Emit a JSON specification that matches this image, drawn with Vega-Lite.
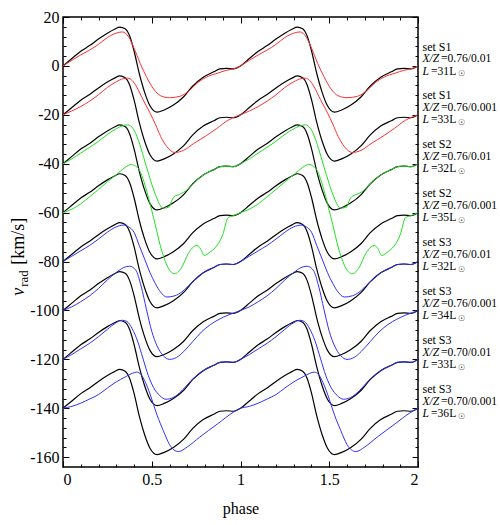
{
"$schema": "https://vega.github.io/schema/vega-lite/v6.json",
"width": 355, "height": 450,
"autosize": "none",
"padding": {"left": 63, "top": 17, "right": 82, "bottom": 58},
"background": "white",
"config": {
 "view": {"stroke": "black", "strokeWidth": 1.5},
 "font": "Liberation Serif",
 "axis": {"domain": false, "grid": false, "tickColor": "black", "tickWidth": 1, "labelColor": "black", "labelFont": "Liberation Serif", "labelFontSize": 16, "titleFont": "Liberation Serif", "titleFontSize": 16, "titleFontWeight": "normal", "titleColor": "black"}
},
"datasets": {
"obs": [
{"c":"b1","p":0,"v":0},{"c":"b1","p":0.05,"v":3},{"c":"b1","p":0.1,"v":6},{"c":"b1","p":0.15,"v":8.3},{"c":"b1","p":0.2,"v":11},{"c":"b1","p":0.25,"v":13.4},{"c":"b1","p":0.29,"v":15},{"c":"b1","p":0.32,"v":15.9},{"c":"b1","p":0.35,"v":15.2},{"c":"b1","p":0.375,"v":12.3},{"c":"b1","p":0.4,"v":6.2},{"c":"b1","p":0.43,"v":-3.2},{"c":"b1","p":0.46,"v":-10.8},{"c":"b1","p":0.49,"v":-16.3},{"c":"b1","p":0.53,"v":-18.9},{"c":"b1","p":0.57,"v":-18},{"c":"b1","p":0.62,"v":-16.1},{"c":"b1","p":0.68,"v":-12.6},{"c":"b1","p":0.73,"v":-8.3},{"c":"b1","p":0.79,"v":-4.6},{"c":"b1","p":0.85,"v":-2.4},{"c":"b1","p":0.885,"v":-1.2},{"c":"b1","p":0.92,"v":-1},{"c":"b1","p":0.96,"v":-1.2},
{"c":"b1","p":1,"v":0},{"c":"b1","p":1.05,"v":3},{"c":"b1","p":1.1,"v":6},{"c":"b1","p":1.15,"v":8.3},{"c":"b1","p":1.2,"v":11},{"c":"b1","p":1.25,"v":13.4},{"c":"b1","p":1.29,"v":15},{"c":"b1","p":1.32,"v":15.9},{"c":"b1","p":1.35,"v":15.2},{"c":"b1","p":1.375,"v":12.3},{"c":"b1","p":1.4,"v":6.2},{"c":"b1","p":1.43,"v":-3.2},{"c":"b1","p":1.46,"v":-10.8},{"c":"b1","p":1.49,"v":-16.3},{"c":"b1","p":1.53,"v":-18.9},{"c":"b1","p":1.57,"v":-18},{"c":"b1","p":1.62,"v":-16.1},{"c":"b1","p":1.68,"v":-12.6},{"c":"b1","p":1.73,"v":-8.3},{"c":"b1","p":1.79,"v":-4.6},{"c":"b1","p":1.85,"v":-2.4},{"c":"b1","p":1.885,"v":-1.2},{"c":"b1","p":1.92,"v":-1},{"c":"b1","p":1.96,"v":-1.2},{"c":"b1","p":2,"v":0},
{"c":"b2","p":0,"v":-20},{"c":"b2","p":0.05,"v":-17},{"c":"b2","p":0.1,"v":-14},{"c":"b2","p":0.15,"v":-11.7},{"c":"b2","p":0.2,"v":-9},{"c":"b2","p":0.25,"v":-6.6},{"c":"b2","p":0.29,"v":-5},{"c":"b2","p":0.32,"v":-4.1},{"c":"b2","p":0.35,"v":-4.8},{"c":"b2","p":0.375,"v":-7.7},{"c":"b2","p":0.4,"v":-13.8},{"c":"b2","p":0.43,"v":-23.2},{"c":"b2","p":0.46,"v":-30.8},{"c":"b2","p":0.49,"v":-36.3},{"c":"b2","p":0.53,"v":-38.9},{"c":"b2","p":0.57,"v":-38},{"c":"b2","p":0.62,"v":-36.1},{"c":"b2","p":0.68,"v":-32.6},{"c":"b2","p":0.73,"v":-28.3},{"c":"b2","p":0.79,"v":-24.6},{"c":"b2","p":0.85,"v":-22.4},{"c":"b2","p":0.885,"v":-21.2},{"c":"b2","p":0.92,"v":-21},{"c":"b2","p":0.96,"v":-21.2},
{"c":"b2","p":1,"v":-20},{"c":"b2","p":1.05,"v":-17},{"c":"b2","p":1.1,"v":-14},{"c":"b2","p":1.15,"v":-11.7},{"c":"b2","p":1.2,"v":-9},{"c":"b2","p":1.25,"v":-6.6},{"c":"b2","p":1.29,"v":-5},{"c":"b2","p":1.32,"v":-4.1},{"c":"b2","p":1.35,"v":-4.8},{"c":"b2","p":1.375,"v":-7.7},{"c":"b2","p":1.4,"v":-13.8},{"c":"b2","p":1.43,"v":-23.2},{"c":"b2","p":1.46,"v":-30.8},{"c":"b2","p":1.49,"v":-36.3},{"c":"b2","p":1.53,"v":-38.9},{"c":"b2","p":1.57,"v":-38},{"c":"b2","p":1.62,"v":-36.1},{"c":"b2","p":1.68,"v":-32.6},{"c":"b2","p":1.73,"v":-28.3},{"c":"b2","p":1.79,"v":-24.6},{"c":"b2","p":1.85,"v":-22.4},{"c":"b2","p":1.885,"v":-21.2},{"c":"b2","p":1.92,"v":-21},{"c":"b2","p":1.96,"v":-21.2},{"c":"b2","p":2,"v":-20},
{"c":"b3","p":0,"v":-40},{"c":"b3","p":0.05,"v":-37},{"c":"b3","p":0.1,"v":-34},{"c":"b3","p":0.15,"v":-31.7},{"c":"b3","p":0.2,"v":-29},{"c":"b3","p":0.25,"v":-26.6},{"c":"b3","p":0.29,"v":-25},{"c":"b3","p":0.32,"v":-24.1},{"c":"b3","p":0.35,"v":-24.8},{"c":"b3","p":0.375,"v":-27.7},{"c":"b3","p":0.4,"v":-33.8},{"c":"b3","p":0.43,"v":-43.2},{"c":"b3","p":0.46,"v":-50.8},{"c":"b3","p":0.49,"v":-56.3},{"c":"b3","p":0.53,"v":-58.9},{"c":"b3","p":0.57,"v":-58},{"c":"b3","p":0.62,"v":-56.1},{"c":"b3","p":0.68,"v":-52.6},{"c":"b3","p":0.73,"v":-48.3},{"c":"b3","p":0.79,"v":-44.6},{"c":"b3","p":0.85,"v":-42.4},{"c":"b3","p":0.885,"v":-41.2},{"c":"b3","p":0.92,"v":-41},{"c":"b3","p":0.96,"v":-41.2},
{"c":"b3","p":1,"v":-40},{"c":"b3","p":1.05,"v":-37},{"c":"b3","p":1.1,"v":-34},{"c":"b3","p":1.15,"v":-31.7},{"c":"b3","p":1.2,"v":-29},{"c":"b3","p":1.25,"v":-26.6},{"c":"b3","p":1.29,"v":-25},{"c":"b3","p":1.32,"v":-24.1},{"c":"b3","p":1.35,"v":-24.8},{"c":"b3","p":1.375,"v":-27.7},{"c":"b3","p":1.4,"v":-33.8},{"c":"b3","p":1.43,"v":-43.2},{"c":"b3","p":1.46,"v":-50.8},{"c":"b3","p":1.49,"v":-56.3},{"c":"b3","p":1.53,"v":-58.9},{"c":"b3","p":1.57,"v":-58},{"c":"b3","p":1.62,"v":-56.1},{"c":"b3","p":1.68,"v":-52.6},{"c":"b3","p":1.73,"v":-48.3},{"c":"b3","p":1.79,"v":-44.6},{"c":"b3","p":1.85,"v":-42.4},{"c":"b3","p":1.885,"v":-41.2},{"c":"b3","p":1.92,"v":-41},{"c":"b3","p":1.96,"v":-41.2},{"c":"b3","p":2,"v":-40},
{"c":"b4","p":0,"v":-60},{"c":"b4","p":0.05,"v":-57},{"c":"b4","p":0.1,"v":-54},{"c":"b4","p":0.15,"v":-51.7},{"c":"b4","p":0.2,"v":-49},{"c":"b4","p":0.25,"v":-46.6},{"c":"b4","p":0.29,"v":-45},{"c":"b4","p":0.32,"v":-44.1},{"c":"b4","p":0.35,"v":-44.8},{"c":"b4","p":0.375,"v":-47.7},{"c":"b4","p":0.4,"v":-53.8},{"c":"b4","p":0.43,"v":-63.2},{"c":"b4","p":0.46,"v":-70.8},{"c":"b4","p":0.49,"v":-76.3},{"c":"b4","p":0.53,"v":-78.9},{"c":"b4","p":0.57,"v":-78},{"c":"b4","p":0.62,"v":-76.1},{"c":"b4","p":0.68,"v":-72.6},{"c":"b4","p":0.73,"v":-68.3},{"c":"b4","p":0.79,"v":-64.6},{"c":"b4","p":0.85,"v":-62.4},{"c":"b4","p":0.885,"v":-61.2},{"c":"b4","p":0.92,"v":-61},{"c":"b4","p":0.96,"v":-61.2},
{"c":"b4","p":1,"v":-60},{"c":"b4","p":1.05,"v":-57},{"c":"b4","p":1.1,"v":-54},{"c":"b4","p":1.15,"v":-51.7},{"c":"b4","p":1.2,"v":-49},{"c":"b4","p":1.25,"v":-46.6},{"c":"b4","p":1.29,"v":-45},{"c":"b4","p":1.32,"v":-44.1},{"c":"b4","p":1.35,"v":-44.8},{"c":"b4","p":1.375,"v":-47.7},{"c":"b4","p":1.4,"v":-53.8},{"c":"b4","p":1.43,"v":-63.2},{"c":"b4","p":1.46,"v":-70.8},{"c":"b4","p":1.49,"v":-76.3},{"c":"b4","p":1.53,"v":-78.9},{"c":"b4","p":1.57,"v":-78},{"c":"b4","p":1.62,"v":-76.1},{"c":"b4","p":1.68,"v":-72.6},{"c":"b4","p":1.73,"v":-68.3},{"c":"b4","p":1.79,"v":-64.6},{"c":"b4","p":1.85,"v":-62.4},{"c":"b4","p":1.885,"v":-61.2},{"c":"b4","p":1.92,"v":-61},{"c":"b4","p":1.96,"v":-61.2},{"c":"b4","p":2,"v":-60},
{"c":"b5","p":0,"v":-80},{"c":"b5","p":0.05,"v":-77},{"c":"b5","p":0.1,"v":-74},{"c":"b5","p":0.15,"v":-71.7},{"c":"b5","p":0.2,"v":-69},{"c":"b5","p":0.25,"v":-66.6},{"c":"b5","p":0.29,"v":-65},{"c":"b5","p":0.32,"v":-64.1},{"c":"b5","p":0.35,"v":-64.8},{"c":"b5","p":0.375,"v":-67.7},{"c":"b5","p":0.4,"v":-73.8},{"c":"b5","p":0.43,"v":-83.2},{"c":"b5","p":0.46,"v":-90.8},{"c":"b5","p":0.49,"v":-96.3},{"c":"b5","p":0.53,"v":-98.9},{"c":"b5","p":0.57,"v":-98},{"c":"b5","p":0.62,"v":-96.1},{"c":"b5","p":0.68,"v":-92.6},{"c":"b5","p":0.73,"v":-88.3},{"c":"b5","p":0.79,"v":-84.6},{"c":"b5","p":0.85,"v":-82.4},{"c":"b5","p":0.885,"v":-81.2},{"c":"b5","p":0.92,"v":-81},{"c":"b5","p":0.96,"v":-81.2},
{"c":"b5","p":1,"v":-80},{"c":"b5","p":1.05,"v":-77},{"c":"b5","p":1.1,"v":-74},{"c":"b5","p":1.15,"v":-71.7},{"c":"b5","p":1.2,"v":-69},{"c":"b5","p":1.25,"v":-66.6},{"c":"b5","p":1.29,"v":-65},{"c":"b5","p":1.32,"v":-64.1},{"c":"b5","p":1.35,"v":-64.8},{"c":"b5","p":1.375,"v":-67.7},{"c":"b5","p":1.4,"v":-73.8},{"c":"b5","p":1.43,"v":-83.2},{"c":"b5","p":1.46,"v":-90.8},{"c":"b5","p":1.49,"v":-96.3},{"c":"b5","p":1.53,"v":-98.9},{"c":"b5","p":1.57,"v":-98},{"c":"b5","p":1.62,"v":-96.1},{"c":"b5","p":1.68,"v":-92.6},{"c":"b5","p":1.73,"v":-88.3},{"c":"b5","p":1.79,"v":-84.6},{"c":"b5","p":1.85,"v":-82.4},{"c":"b5","p":1.885,"v":-81.2},{"c":"b5","p":1.92,"v":-81},{"c":"b5","p":1.96,"v":-81.2},{"c":"b5","p":2,"v":-80},
{"c":"b6","p":0,"v":-100},{"c":"b6","p":0.05,"v":-97},{"c":"b6","p":0.1,"v":-94},{"c":"b6","p":0.15,"v":-91.7},{"c":"b6","p":0.2,"v":-89},{"c":"b6","p":0.25,"v":-86.6},{"c":"b6","p":0.29,"v":-85},{"c":"b6","p":0.32,"v":-84.1},{"c":"b6","p":0.35,"v":-84.8},{"c":"b6","p":0.375,"v":-87.7},{"c":"b6","p":0.4,"v":-93.8},{"c":"b6","p":0.43,"v":-103.2},{"c":"b6","p":0.46,"v":-110.8},{"c":"b6","p":0.49,"v":-116.3},{"c":"b6","p":0.53,"v":-118.9},{"c":"b6","p":0.57,"v":-118},{"c":"b6","p":0.62,"v":-116.1},{"c":"b6","p":0.68,"v":-112.6},{"c":"b6","p":0.73,"v":-108.3},{"c":"b6","p":0.79,"v":-104.6},{"c":"b6","p":0.85,"v":-102.4},{"c":"b6","p":0.885,"v":-101.2},{"c":"b6","p":0.92,"v":-101},{"c":"b6","p":0.96,"v":-101.2},
{"c":"b6","p":1,"v":-100},{"c":"b6","p":1.05,"v":-97},{"c":"b6","p":1.1,"v":-94},{"c":"b6","p":1.15,"v":-91.7},{"c":"b6","p":1.2,"v":-89},{"c":"b6","p":1.25,"v":-86.6},{"c":"b6","p":1.29,"v":-85},{"c":"b6","p":1.32,"v":-84.1},{"c":"b6","p":1.35,"v":-84.8},{"c":"b6","p":1.375,"v":-87.7},{"c":"b6","p":1.4,"v":-93.8},{"c":"b6","p":1.43,"v":-103.2},{"c":"b6","p":1.46,"v":-110.8},{"c":"b6","p":1.49,"v":-116.3},{"c":"b6","p":1.53,"v":-118.9},{"c":"b6","p":1.57,"v":-118},{"c":"b6","p":1.62,"v":-116.1},{"c":"b6","p":1.68,"v":-112.6},{"c":"b6","p":1.73,"v":-108.3},{"c":"b6","p":1.79,"v":-104.6},{"c":"b6","p":1.85,"v":-102.4},{"c":"b6","p":1.885,"v":-101.2},{"c":"b6","p":1.92,"v":-101},{"c":"b6","p":1.96,"v":-101.2},{"c":"b6","p":2,"v":-100},
{"c":"b7","p":0,"v":-120},{"c":"b7","p":0.05,"v":-117},{"c":"b7","p":0.1,"v":-114},{"c":"b7","p":0.15,"v":-111.7},{"c":"b7","p":0.2,"v":-109},{"c":"b7","p":0.25,"v":-106.6},{"c":"b7","p":0.29,"v":-105},{"c":"b7","p":0.32,"v":-104.1},{"c":"b7","p":0.35,"v":-104.8},{"c":"b7","p":0.375,"v":-107.7},{"c":"b7","p":0.4,"v":-113.8},{"c":"b7","p":0.43,"v":-123.2},{"c":"b7","p":0.46,"v":-130.8},{"c":"b7","p":0.49,"v":-136.3},{"c":"b7","p":0.53,"v":-138.9},{"c":"b7","p":0.57,"v":-138},{"c":"b7","p":0.62,"v":-136.1},{"c":"b7","p":0.68,"v":-132.6},{"c":"b7","p":0.73,"v":-128.3},{"c":"b7","p":0.79,"v":-124.6},{"c":"b7","p":0.85,"v":-122.4},{"c":"b7","p":0.885,"v":-121.2},{"c":"b7","p":0.92,"v":-121},{"c":"b7","p":0.96,"v":-121.2},
{"c":"b7","p":1,"v":-120},{"c":"b7","p":1.05,"v":-117},{"c":"b7","p":1.1,"v":-114},{"c":"b7","p":1.15,"v":-111.7},{"c":"b7","p":1.2,"v":-109},{"c":"b7","p":1.25,"v":-106.6},{"c":"b7","p":1.29,"v":-105},{"c":"b7","p":1.32,"v":-104.1},{"c":"b7","p":1.35,"v":-104.8},{"c":"b7","p":1.375,"v":-107.7},{"c":"b7","p":1.4,"v":-113.8},{"c":"b7","p":1.43,"v":-123.2},{"c":"b7","p":1.46,"v":-130.8},{"c":"b7","p":1.49,"v":-136.3},{"c":"b7","p":1.53,"v":-138.9},{"c":"b7","p":1.57,"v":-138},{"c":"b7","p":1.62,"v":-136.1},{"c":"b7","p":1.68,"v":-132.6},{"c":"b7","p":1.73,"v":-128.3},{"c":"b7","p":1.79,"v":-124.6},{"c":"b7","p":1.85,"v":-122.4},{"c":"b7","p":1.885,"v":-121.2},{"c":"b7","p":1.92,"v":-121},{"c":"b7","p":1.96,"v":-121.2},{"c":"b7","p":2,"v":-120},
{"c":"b8","p":0,"v":-140},{"c":"b8","p":0.05,"v":-137},{"c":"b8","p":0.1,"v":-134},{"c":"b8","p":0.15,"v":-131.7},{"c":"b8","p":0.2,"v":-129},{"c":"b8","p":0.25,"v":-126.6},{"c":"b8","p":0.29,"v":-125},{"c":"b8","p":0.32,"v":-124.1},{"c":"b8","p":0.35,"v":-124.8},{"c":"b8","p":0.375,"v":-127.7},{"c":"b8","p":0.4,"v":-133.8},{"c":"b8","p":0.43,"v":-143.2},{"c":"b8","p":0.46,"v":-150.8},{"c":"b8","p":0.49,"v":-156.3},{"c":"b8","p":0.53,"v":-158.9},{"c":"b8","p":0.57,"v":-158},{"c":"b8","p":0.62,"v":-156.1},{"c":"b8","p":0.68,"v":-152.6},{"c":"b8","p":0.73,"v":-148.3},{"c":"b8","p":0.79,"v":-144.6},{"c":"b8","p":0.85,"v":-142.4},{"c":"b8","p":0.885,"v":-141.2},{"c":"b8","p":0.92,"v":-141},{"c":"b8","p":0.96,"v":-141.2},
{"c":"b8","p":1,"v":-140},{"c":"b8","p":1.05,"v":-137},{"c":"b8","p":1.1,"v":-134},{"c":"b8","p":1.15,"v":-131.7},{"c":"b8","p":1.2,"v":-129},{"c":"b8","p":1.25,"v":-126.6},{"c":"b8","p":1.29,"v":-125},{"c":"b8","p":1.32,"v":-124.1},{"c":"b8","p":1.35,"v":-124.8},{"c":"b8","p":1.375,"v":-127.7},{"c":"b8","p":1.4,"v":-133.8},{"c":"b8","p":1.43,"v":-143.2},{"c":"b8","p":1.46,"v":-150.8},{"c":"b8","p":1.49,"v":-156.3},{"c":"b8","p":1.53,"v":-158.9},{"c":"b8","p":1.57,"v":-158},{"c":"b8","p":1.62,"v":-156.1},{"c":"b8","p":1.68,"v":-152.6},{"c":"b8","p":1.73,"v":-148.3},{"c":"b8","p":1.79,"v":-144.6},{"c":"b8","p":1.85,"v":-142.4},{"c":"b8","p":1.885,"v":-141.2},{"c":"b8","p":1.92,"v":-141},{"c":"b8","p":1.96,"v":-141.2},{"c":"b8","p":2,"v":-140}
],
"mod": [
{"c":"m1","p":0,"v":0},{"c":"m1","p":0.05,"v":2.3},{"c":"m1","p":0.1,"v":4.5},{"c":"m1","p":0.15,"v":6.5},{"c":"m1","p":0.2,"v":8.8},{"c":"m1","p":0.25,"v":11.6},{"c":"m1","p":0.3,"v":13.4},{"c":"m1","p":0.335,"v":13.9},{"c":"m1","p":0.37,"v":11.8},{"c":"m1","p":0.4,"v":7.3},{"c":"m1","p":0.435,"v":1},{"c":"m1","p":0.47,"v":-4.4},{"c":"m1","p":0.51,"v":-9.4},{"c":"m1","p":0.55,"v":-12.2},{"c":"m1","p":0.6,"v":-13},{"c":"m1","p":0.66,"v":-12.4},{"c":"m1","p":0.71,"v":-10.2},{"c":"m1","p":0.76,"v":-6.8},{"c":"m1","p":0.81,"v":-4.5},{"c":"m1","p":0.87,"v":-3},{"c":"m1","p":0.92,"v":-1.8},{"c":"m1","p":0.96,"v":-1.2},
{"c":"m1","p":1,"v":0},{"c":"m1","p":1.05,"v":2.3},{"c":"m1","p":1.1,"v":4.5},{"c":"m1","p":1.15,"v":6.5},{"c":"m1","p":1.2,"v":8.8},{"c":"m1","p":1.25,"v":11.6},{"c":"m1","p":1.3,"v":13.4},{"c":"m1","p":1.335,"v":13.9},{"c":"m1","p":1.37,"v":11.8},{"c":"m1","p":1.4,"v":7.3},{"c":"m1","p":1.435,"v":1},{"c":"m1","p":1.47,"v":-4.4},{"c":"m1","p":1.51,"v":-9.4},{"c":"m1","p":1.55,"v":-12.2},{"c":"m1","p":1.6,"v":-13},{"c":"m1","p":1.66,"v":-12.4},{"c":"m1","p":1.71,"v":-10.2},{"c":"m1","p":1.76,"v":-6.8},{"c":"m1","p":1.81,"v":-4.5},{"c":"m1","p":1.87,"v":-3},{"c":"m1","p":1.92,"v":-1.8},{"c":"m1","p":1.96,"v":-1.2},{"c":"m1","p":2,"v":0},
{"c":"m2","p":0,"v":-20},{"c":"m2","p":0.05,"v":-18.4},{"c":"m2","p":0.1,"v":-16.6},{"c":"m2","p":0.15,"v":-14.4},{"c":"m2","p":0.2,"v":-11.8},{"c":"m2","p":0.25,"v":-8.8},{"c":"m2","p":0.3,"v":-6.5},{"c":"m2","p":0.34,"v":-5.2},{"c":"m2","p":0.365,"v":-5},{"c":"m2","p":0.39,"v":-6},{"c":"m2","p":0.415,"v":-8.6},{"c":"m2","p":0.45,"v":-13.7},{"c":"m2","p":0.49,"v":-19.2},{"c":"m2","p":0.52,"v":-23.8},{"c":"m2","p":0.55,"v":-28.8},{"c":"m2","p":0.585,"v":-33},{"c":"m2","p":0.63,"v":-35.4},{"c":"m2","p":0.68,"v":-34.5},{"c":"m2","p":0.735,"v":-31.8},{"c":"m2","p":0.81,"v":-28.4},{"c":"m2","p":0.866,"v":-25.6},{"c":"m2","p":0.93,"v":-22.2},{"c":"m2","p":0.97,"v":-20.8},
{"c":"m2","p":1,"v":-20},{"c":"m2","p":1.05,"v":-18.4},{"c":"m2","p":1.1,"v":-16.6},{"c":"m2","p":1.15,"v":-14.4},{"c":"m2","p":1.2,"v":-11.8},{"c":"m2","p":1.25,"v":-8.8},{"c":"m2","p":1.3,"v":-6.5},{"c":"m2","p":1.34,"v":-5.2},{"c":"m2","p":1.365,"v":-5},{"c":"m2","p":1.39,"v":-6},{"c":"m2","p":1.415,"v":-8.6},{"c":"m2","p":1.45,"v":-13.7},{"c":"m2","p":1.49,"v":-19.2},{"c":"m2","p":1.52,"v":-23.8},{"c":"m2","p":1.55,"v":-28.8},{"c":"m2","p":1.585,"v":-33},{"c":"m2","p":1.63,"v":-35.4},{"c":"m2","p":1.68,"v":-34.5},{"c":"m2","p":1.735,"v":-31.8},{"c":"m2","p":1.81,"v":-28.4},{"c":"m2","p":1.866,"v":-25.6},{"c":"m2","p":1.93,"v":-22.2},{"c":"m2","p":1.97,"v":-20.8},{"c":"m2","p":2,"v":-20},
{"c":"m3","p":0,"v":-40},{"c":"m3","p":0.05,"v":-38},{"c":"m3","p":0.1,"v":-35.6},{"c":"m3","p":0.15,"v":-33.3},{"c":"m3","p":0.2,"v":-30.8},{"c":"m3","p":0.25,"v":-28},{"c":"m3","p":0.3,"v":-25.7},{"c":"m3","p":0.335,"v":-24.5},{"c":"m3","p":0.365,"v":-24.1},{"c":"m3","p":0.395,"v":-25.6},{"c":"m3","p":0.425,"v":-30.5},{"c":"m3","p":0.455,"v":-37.5},{"c":"m3","p":0.485,"v":-44.8},{"c":"m3","p":0.52,"v":-52.5},{"c":"m3","p":0.565,"v":-58.2},{"c":"m3","p":0.6,"v":-57.6},{"c":"m3","p":0.61,"v":-55.5},{"c":"m3","p":0.625,"v":-53.6},{"c":"m3","p":0.66,"v":-52.4},{"c":"m3","p":0.7,"v":-50.6},{"c":"m3","p":0.73,"v":-48.3},{"c":"m3","p":0.79,"v":-44.6},{"c":"m3","p":0.85,"v":-42.4},{"c":"m3","p":0.885,"v":-41.2},{"c":"m3","p":0.92,"v":-41},{"c":"m3","p":0.96,"v":-41.2},
{"c":"m3","p":1,"v":-40},{"c":"m3","p":1.05,"v":-38},{"c":"m3","p":1.1,"v":-35.6},{"c":"m3","p":1.15,"v":-33.3},{"c":"m3","p":1.2,"v":-30.8},{"c":"m3","p":1.25,"v":-28},{"c":"m3","p":1.3,"v":-25.7},{"c":"m3","p":1.335,"v":-24.5},{"c":"m3","p":1.365,"v":-24.1},{"c":"m3","p":1.395,"v":-25.6},{"c":"m3","p":1.425,"v":-30.5},{"c":"m3","p":1.455,"v":-37.5},{"c":"m3","p":1.485,"v":-44.8},{"c":"m3","p":1.52,"v":-52.5},{"c":"m3","p":1.565,"v":-58.2},{"c":"m3","p":1.6,"v":-57.6},{"c":"m3","p":1.61,"v":-55.5},{"c":"m3","p":1.625,"v":-53.6},{"c":"m3","p":1.66,"v":-52.4},{"c":"m3","p":1.7,"v":-50.6},{"c":"m3","p":1.73,"v":-48.3},{"c":"m3","p":1.79,"v":-44.6},{"c":"m3","p":1.85,"v":-42.4},{"c":"m3","p":1.885,"v":-41.2},{"c":"m3","p":1.92,"v":-41},{"c":"m3","p":1.96,"v":-41.2},{"c":"m3","p":2,"v":-40},
{"c":"m4","p":0,"v":-60},{"c":"m4","p":0.05,"v":-58.6},{"c":"m4","p":0.1,"v":-56.4},{"c":"m4","p":0.15,"v":-53.5},{"c":"m4","p":0.2,"v":-50.5},{"c":"m4","p":0.25,"v":-47.4},{"c":"m4","p":0.3,"v":-44.5},{"c":"m4","p":0.35,"v":-41.5},{"c":"m4","p":0.385,"v":-40.3},{"c":"m4","p":0.41,"v":-41},{"c":"m4","p":0.43,"v":-42.5},{"c":"m4","p":0.45,"v":-46},{"c":"m4","p":0.48,"v":-53.5},{"c":"m4","p":0.52,"v":-65},{"c":"m4","p":0.55,"v":-74},{"c":"m4","p":0.585,"v":-81.5},{"c":"m4","p":0.63,"v":-85},{"c":"m4","p":0.67,"v":-82.2},{"c":"m4","p":0.705,"v":-76.8},{"c":"m4","p":0.735,"v":-74},{"c":"m4","p":0.755,"v":-73.4},{"c":"m4","p":0.775,"v":-74.8},{"c":"m4","p":0.795,"v":-77.5},{"c":"m4","p":0.83,"v":-76},{"c":"m4","p":0.866,"v":-73.6},{"c":"m4","p":0.9,"v":-69},{"c":"m4","p":0.93,"v":-62},{"c":"m4","p":0.96,"v":-61.2},
{"c":"m4","p":1,"v":-60},{"c":"m4","p":1.05,"v":-58.6},{"c":"m4","p":1.1,"v":-56.4},{"c":"m4","p":1.15,"v":-53.5},{"c":"m4","p":1.2,"v":-50.5},{"c":"m4","p":1.25,"v":-47.4},{"c":"m4","p":1.3,"v":-44.5},{"c":"m4","p":1.35,"v":-41.5},{"c":"m4","p":1.385,"v":-40.3},{"c":"m4","p":1.41,"v":-41},{"c":"m4","p":1.43,"v":-42.5},{"c":"m4","p":1.45,"v":-46},{"c":"m4","p":1.48,"v":-53.5},{"c":"m4","p":1.52,"v":-65},{"c":"m4","p":1.55,"v":-74},{"c":"m4","p":1.585,"v":-81.5},{"c":"m4","p":1.63,"v":-85},{"c":"m4","p":1.67,"v":-82.2},{"c":"m4","p":1.705,"v":-76.8},{"c":"m4","p":1.735,"v":-74},{"c":"m4","p":1.755,"v":-73.4},{"c":"m4","p":1.775,"v":-74.8},{"c":"m4","p":1.795,"v":-77.5},{"c":"m4","p":1.83,"v":-76},{"c":"m4","p":1.866,"v":-73.6},{"c":"m4","p":1.9,"v":-69},{"c":"m4","p":1.93,"v":-62},{"c":"m4","p":1.96,"v":-61.2},{"c":"m4","p":2,"v":-60},
{"c":"m5","p":0,"v":-80},{"c":"m5","p":0.05,"v":-77.8},{"c":"m5","p":0.1,"v":-75.6},{"c":"m5","p":0.15,"v":-73.4},{"c":"m5","p":0.2,"v":-70.8},{"c":"m5","p":0.25,"v":-68},{"c":"m5","p":0.3,"v":-65.8},{"c":"m5","p":0.34,"v":-65.1},{"c":"m5","p":0.37,"v":-65.8},{"c":"m5","p":0.4,"v":-68},{"c":"m5","p":0.43,"v":-73.5},{"c":"m5","p":0.46,"v":-79},{"c":"m5","p":0.49,"v":-84.5},{"c":"m5","p":0.52,"v":-89},{"c":"m5","p":0.55,"v":-92.5},{"c":"m5","p":0.585,"v":-94.5},{"c":"m5","p":0.63,"v":-94},{"c":"m5","p":0.67,"v":-92.4},{"c":"m5","p":0.72,"v":-89},{"c":"m5","p":0.76,"v":-86.5},{"c":"m5","p":0.79,"v":-84.6},{"c":"m5","p":0.85,"v":-82.4},{"c":"m5","p":0.885,"v":-81.2},{"c":"m5","p":0.92,"v":-81},{"c":"m5","p":0.96,"v":-81.2},
{"c":"m5","p":1,"v":-80},{"c":"m5","p":1.05,"v":-77.8},{"c":"m5","p":1.1,"v":-75.6},{"c":"m5","p":1.15,"v":-73.4},{"c":"m5","p":1.2,"v":-70.8},{"c":"m5","p":1.25,"v":-68},{"c":"m5","p":1.3,"v":-65.8},{"c":"m5","p":1.34,"v":-65.1},{"c":"m5","p":1.37,"v":-65.8},{"c":"m5","p":1.4,"v":-68},{"c":"m5","p":1.43,"v":-73.5},{"c":"m5","p":1.46,"v":-79},{"c":"m5","p":1.49,"v":-84.5},{"c":"m5","p":1.52,"v":-89},{"c":"m5","p":1.55,"v":-92.5},{"c":"m5","p":1.585,"v":-94.5},{"c":"m5","p":1.63,"v":-94},{"c":"m5","p":1.67,"v":-92.4},{"c":"m5","p":1.72,"v":-89},{"c":"m5","p":1.76,"v":-86.5},{"c":"m5","p":1.79,"v":-84.6},{"c":"m5","p":1.85,"v":-82.4},{"c":"m5","p":1.885,"v":-81.2},{"c":"m5","p":1.92,"v":-81},{"c":"m5","p":1.96,"v":-81.2},{"c":"m5","p":2,"v":-80},
{"c":"m6","p":0,"v":-100},{"c":"m6","p":0.05,"v":-98.5},{"c":"m6","p":0.1,"v":-96.4},{"c":"m6","p":0.15,"v":-94},{"c":"m6","p":0.2,"v":-91},{"c":"m6","p":0.25,"v":-87.5},{"c":"m6","p":0.3,"v":-84.5},{"c":"m6","p":0.34,"v":-82.5},{"c":"m6","p":0.375,"v":-81.9},{"c":"m6","p":0.41,"v":-83.5},{"c":"m6","p":0.44,"v":-90},{"c":"m6","p":0.47,"v":-99.5},{"c":"m6","p":0.5,"v":-108.5},{"c":"m6","p":0.53,"v":-114.5},{"c":"m6","p":0.565,"v":-118.5},{"c":"m6","p":0.6,"v":-120},{"c":"m6","p":0.64,"v":-119.2},{"c":"m6","p":0.68,"v":-116.8},{"c":"m6","p":0.73,"v":-112.8},{"c":"m6","p":0.78,"v":-108.8},{"c":"m6","p":0.83,"v":-105.8},{"c":"m6","p":0.88,"v":-103.6},{"c":"m6","p":0.93,"v":-101.9},{"c":"m6","p":0.97,"v":-100.8},
{"c":"m6","p":1,"v":-100},{"c":"m6","p":1.05,"v":-98.5},{"c":"m6","p":1.1,"v":-96.4},{"c":"m6","p":1.15,"v":-94},{"c":"m6","p":1.2,"v":-91},{"c":"m6","p":1.25,"v":-87.5},{"c":"m6","p":1.3,"v":-84.5},{"c":"m6","p":1.34,"v":-82.5},{"c":"m6","p":1.375,"v":-81.9},{"c":"m6","p":1.41,"v":-83.5},{"c":"m6","p":1.44,"v":-90},{"c":"m6","p":1.47,"v":-99.5},{"c":"m6","p":1.5,"v":-108.5},{"c":"m6","p":1.53,"v":-114.5},{"c":"m6","p":1.565,"v":-118.5},{"c":"m6","p":1.6,"v":-120},{"c":"m6","p":1.64,"v":-119.2},{"c":"m6","p":1.68,"v":-116.8},{"c":"m6","p":1.73,"v":-112.8},{"c":"m6","p":1.78,"v":-108.8},{"c":"m6","p":1.83,"v":-105.8},{"c":"m6","p":1.88,"v":-103.6},{"c":"m6","p":1.93,"v":-101.9},{"c":"m6","p":1.97,"v":-100.8},{"c":"m6","p":2,"v":-100},
{"c":"m7","p":0,"v":-120},{"c":"m7","p":0.05,"v":-118},{"c":"m7","p":0.1,"v":-115.7},{"c":"m7","p":0.15,"v":-113.4},{"c":"m7","p":0.2,"v":-110.7},{"c":"m7","p":0.25,"v":-107.7},{"c":"m7","p":0.3,"v":-105},{"c":"m7","p":0.335,"v":-104},{"c":"m7","p":0.36,"v":-104.5},{"c":"m7","p":0.39,"v":-107.5},{"c":"m7","p":0.42,"v":-112.5},{"c":"m7","p":0.45,"v":-119.5},{"c":"m7","p":0.48,"v":-126.5},{"c":"m7","p":0.51,"v":-131.5},{"c":"m7","p":0.545,"v":-134.8},{"c":"m7","p":0.58,"v":-136.3},{"c":"m7","p":0.62,"v":-135.6},{"c":"m7","p":0.67,"v":-132.8},{"c":"m7","p":0.72,"v":-128.8},{"c":"m7","p":0.78,"v":-125},{"c":"m7","p":0.85,"v":-122.4},{"c":"m7","p":0.885,"v":-121.2},{"c":"m7","p":0.92,"v":-121},{"c":"m7","p":0.96,"v":-121.2},
{"c":"m7","p":1,"v":-120},{"c":"m7","p":1.05,"v":-118},{"c":"m7","p":1.1,"v":-115.7},{"c":"m7","p":1.15,"v":-113.4},{"c":"m7","p":1.2,"v":-110.7},{"c":"m7","p":1.25,"v":-107.7},{"c":"m7","p":1.3,"v":-105},{"c":"m7","p":1.335,"v":-104},{"c":"m7","p":1.36,"v":-104.5},{"c":"m7","p":1.39,"v":-107.5},{"c":"m7","p":1.42,"v":-112.5},{"c":"m7","p":1.45,"v":-119.5},{"c":"m7","p":1.48,"v":-126.5},{"c":"m7","p":1.51,"v":-131.5},{"c":"m7","p":1.545,"v":-134.8},{"c":"m7","p":1.58,"v":-136.3},{"c":"m7","p":1.62,"v":-135.6},{"c":"m7","p":1.67,"v":-132.8},{"c":"m7","p":1.72,"v":-128.8},{"c":"m7","p":1.78,"v":-125},{"c":"m7","p":1.85,"v":-122.4},{"c":"m7","p":1.885,"v":-121.2},{"c":"m7","p":1.92,"v":-121},{"c":"m7","p":1.96,"v":-121.2},{"c":"m7","p":2,"v":-120},
{"c":"m8","p":0,"v":-140},{"c":"m8","p":0.05,"v":-139.2},{"c":"m8","p":0.1,"v":-137.9},{"c":"m8","p":0.15,"v":-136.2},{"c":"m8","p":0.2,"v":-134.4},{"c":"m8","p":0.25,"v":-131.7},{"c":"m8","p":0.3,"v":-129.2},{"c":"m8","p":0.35,"v":-127.2},{"c":"m8","p":0.39,"v":-125.7},{"c":"m8","p":0.415,"v":-125.2},{"c":"m8","p":0.44,"v":-126.2},{"c":"m8","p":0.465,"v":-129.5},{"c":"m8","p":0.49,"v":-134.1},{"c":"m8","p":0.51,"v":-138.5},{"c":"m8","p":0.53,"v":-142.8},{"c":"m8","p":0.565,"v":-149.1},{"c":"m8","p":0.6,"v":-154.8},{"c":"m8","p":0.625,"v":-157},{"c":"m8","p":0.65,"v":-157.7},{"c":"m8","p":0.7,"v":-155.8},{"c":"m8","p":0.77,"v":-151.8},{"c":"m8","p":0.87,"v":-146.4},{"c":"m8","p":0.96,"v":-141.6},
{"c":"m8","p":1,"v":-140},{"c":"m8","p":1.05,"v":-139.2},{"c":"m8","p":1.1,"v":-137.9},{"c":"m8","p":1.15,"v":-136.2},{"c":"m8","p":1.2,"v":-134.4},{"c":"m8","p":1.25,"v":-131.7},{"c":"m8","p":1.3,"v":-129.2},{"c":"m8","p":1.35,"v":-127.2},{"c":"m8","p":1.39,"v":-125.7},{"c":"m8","p":1.415,"v":-125.2},{"c":"m8","p":1.44,"v":-126.2},{"c":"m8","p":1.465,"v":-129.5},{"c":"m8","p":1.49,"v":-134.1},{"c":"m8","p":1.51,"v":-138.5},{"c":"m8","p":1.53,"v":-142.8},{"c":"m8","p":1.565,"v":-149.1},{"c":"m8","p":1.6,"v":-154.8},{"c":"m8","p":1.625,"v":-157},{"c":"m8","p":1.65,"v":-157.7},{"c":"m8","p":1.7,"v":-155.8},{"c":"m8","p":1.77,"v":-151.8},{"c":"m8","p":1.87,"v":-146.4},{"c":"m8","p":1.96,"v":-141.6},{"c":"m8","p":2,"v":-140}
],
"lab": [
{"o":0,"s":"set S1","xz":"=0.76/0.01","L":"=31L"},
{"o":-20,"s":"set S1","xz":"=0.76/0.001","L":"=33L"},
{"o":-40,"s":"set S2","xz":"=0.76/0.01","L":"=32L"},
{"o":-60,"s":"set S2","xz":"=0.76/0.001","L":"=35L"},
{"o":-80,"s":"set S3","xz":"=0.76/0.01","L":"=32L"},
{"o":-100,"s":"set S3","xz":"=0.76/0.001","L":"=34L"},
{"o":-120,"s":"set S3","xz":"=0.70/0.01","L":"=33L"},
{"o":-140,"s":"set S3","xz":"=0.70/0.001","L":"=36L"}
]
},
"layer": [
{"data": {"name": "obs"},
 "mark": {"type": "line", "color": "black", "strokeWidth": 1.2, "interpolate": "monotone"},
 "encoding": {
  "x": {"field": "p", "type": "quantitative", "scale": {"domain": [0, 2], "nice": false, "zero": false},
        "axis": {"orient": "bottom", "values": [0, 0.5, 1, 1.5, 2], "format": "~g", "tickSize": -6, "labelPadding": 10, "title": "phase", "titlePadding": 13}},
  "y": {"field": "v", "type": "quantitative", "scale": {"domain": [-164, 20], "nice": false, "zero": false},
        "axis": {"orient": "left", "values": [-160, -140, -120, -100, -80, -60, -40, -20, 0, 20], "labelExpr": "'' + datum.value", "tickSize": -6, "labelPadding": 10, "title": null}},
  "detail": {"field": "c"}
 }},
{"data": {"name": "mod"},
 "mark": {"type": "line", "strokeWidth": 1, "interpolate": "monotone"},
 "encoding": {
  "x": {"field": "p", "type": "quantitative", "scale": {"domain": [0, 2], "nice": false, "zero": false},
        "axis": {"orient": "top", "values": [0, 0.5, 1, 1.5, 2], "tickSize": -6, "labels": false, "title": null}},
  "y": {"field": "v", "type": "quantitative", "scale": {"domain": [-164, 20], "nice": false, "zero": false},
        "axis": {"orient": "right", "values": [-160, -140, -120, -100, -80, -60, -40, -20, 0, 20], "tickSize": -6, "labels": false, "title": null}},
  "color": {"field": "c", "type": "nominal", "legend": null,
            "scale": {"domain": ["m1","m2","m3","m4","m5","m6","m7","m8"], "range": ["#ff3030","#ff3030","#20e020","#20e020","#3030ff","#3030ff","#3030ff","#3030ff"]}}
 }},
{"data": {"name": "lab"},
 "mark": {"type": "text", "align": "left", "baseline": "middle", "dx": 4.5, "dy": -19.4, "fontSize": 12, "font": "Liberation Serif", "color": "black"},
 "encoding": {
  "x": {"datum": 2, "type": "quantitative", "scale": {"domain": [0, 2], "nice": false, "zero": false},
        "axis": {"orient": "bottom", "values": [0.1,0.2,0.3,0.4,0.6,0.7,0.8,0.9,1.1,1.2,1.3,1.4,1.6,1.7,1.8,1.9], "tickSize": -3, "labels": false, "title": null}},
  "y": {"field": "o", "type": "quantitative", "scale": {"domain": [-164, 20], "nice": false, "zero": false},
        "axis": {"orient": "left", "values": [-156,-152,-148,-144,-136,-132,-128,-124,-116,-112,-108,-104,-96,-92,-88,-84,-76,-72,-68,-64,-56,-52,-48,-44,-36,-32,-28,-24,-16,-12,-8,-4,4,8,12,16], "tickSize": -3, "labels": false, "title": null}},
  "text": {"field": "s"}
 }},
{"data": {"name": "lab"},
 "mark": {"type": "text", "align": "left", "baseline": "middle", "dx": 4.5, "dy": -6.7, "fontSize": 11.6, "font": "Liberation Serif", "fontStyle": "italic", "color": "black", "text": "X/Z"},
 "encoding": {
  "x": {"datum": 2, "type": "quantitative", "scale": {"domain": [0, 2], "nice": false, "zero": false},
        "axis": {"orient": "top", "values": [0.1,0.2,0.3,0.4,0.6,0.7,0.8,0.9,1.1,1.2,1.3,1.4,1.6,1.7,1.8,1.9], "tickSize": -3, "labels": false, "title": null}},
  "y": {"field": "o", "type": "quantitative", "scale": {"domain": [-164, 20], "nice": false, "zero": false},
        "axis": {"orient": "right", "values": [-156,-152,-148,-144,-136,-132,-128,-124,-116,-112,-108,-104,-96,-92,-88,-84,-76,-72,-68,-64,-56,-52,-48,-44,-36,-32,-28,-24,-16,-12,-8,-4,4,8,12,16], "tickSize": -3, "labels": false, "title": null}}
 }},
{"data": {"name": "lab"},
 "mark": {"type": "text", "align": "left", "baseline": "middle", "dx": 23, "dy": -6.7, "fontSize": 11.6, "font": "Liberation Serif", "color": "black"},
 "encoding": {"x": {"datum": 2, "type": "quantitative", "axis": null}, "y": {"field": "o", "type": "quantitative", "axis": null}, "text": {"field": "xz"}}},
{"data": {"name": "lab"},
 "mark": {"type": "text", "align": "left", "baseline": "middle", "dx": 4.5, "dy": 5.6, "fontSize": 11.6, "font": "Liberation Serif", "fontStyle": "italic", "color": "black", "text": "L"},
 "encoding": {"x": {"datum": 2, "type": "quantitative", "axis": null}, "y": {"field": "o", "type": "quantitative", "axis": null}}},
{"data": {"name": "lab"},
 "mark": {"type": "text", "align": "left", "baseline": "middle", "dx": 13, "dy": 5.6, "fontSize": 11.6, "font": "Liberation Serif", "color": "black"},
 "encoding": {"x": {"datum": 2, "type": "quantitative", "axis": null}, "y": {"field": "o", "type": "quantitative", "axis": null}, "text": {"field": "L"}}},
{"data": {"name": "lab"},
 "mark": {"type": "text", "align": "left", "baseline": "middle", "dx": 40, "dy": 8.5, "fontSize": 8, "font": "DejaVu Sans", "color": "#333333", "text": "☉"},
 "encoding": {"x": {"datum": 2, "type": "quantitative", "axis": null}, "y": {"field": "o", "type": "quantitative", "axis": null}}},
{"data": {"values": [{}]},
 "mark": {"type": "text", "align": "left", "baseline": "middle", "angle": 270, "dx": 0, "dy": -44, "fontSize": 18, "font": "Liberation Serif", "fontStyle": "italic", "color": "black", "text": "v"},
 "encoding": {"x": {"datum": 0, "type": "quantitative", "axis": null}, "y": {"datum": -94, "type": "quantitative", "axis": null}}},
{"data": {"values": [{}]},
 "mark": {"type": "text", "align": "left", "baseline": "middle", "angle": 270, "dx": 9, "dy": -39, "fontSize": 13, "font": "Liberation Serif", "color": "black", "text": "rad"},
 "encoding": {"x": {"datum": 0, "type": "quantitative", "axis": null}, "y": {"datum": -94, "type": "quantitative", "axis": null}}},
{"data": {"values": [{}]},
 "mark": {"type": "text", "align": "left", "baseline": "middle", "angle": 270, "dx": 31, "dy": -44, "fontSize": 18, "font": "Liberation Serif", "color": "black", "text": "[km/s]"},
 "encoding": {"x": {"datum": 0, "type": "quantitative", "axis": null}, "y": {"datum": -94, "type": "quantitative", "axis": null}}}
],
"resolve": {"axis": {"x": "independent", "y": "independent"}}
}
